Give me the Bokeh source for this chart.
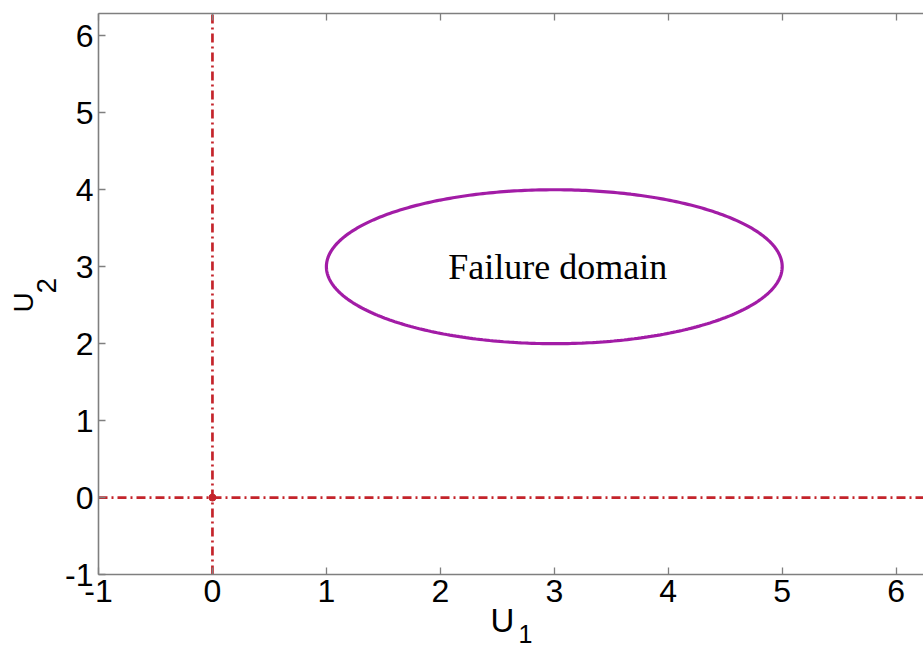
import numpy as np
from bokeh.plotting import figure
from bokeh.models import Range1d, LinearAxis, Label, FixedTicker, CustomJSTickFormatter
from bokeh.embed import file_html
from bokeh.resources import INLINE

# Limit-state region: ellipse in standard normal space
center_u1 = 3.0
center_u2 = 3.0
semi_u1 = 2.0
semi_u2 = 1.0
domain_label = "Failure domain"

# Axes through the origin
origin = [0.0, 0.0]
ticks = [-1, 0, 1, 2, 3, 4, 5, 6]
x_lim = [-1.0, 6.24]
y_lim = [-1.0, 6.29]

AXIS_GRAY = "#7f7f7f"
RED = "#c4242b"
PURPLE = "#a21ca6"

# The frame spans the whole canvas; the box axes sit at fixed data positions
p = figure(width=923, height=650, output_backend="svg", toolbar_location=None,
           x_range=Range1d(-1.86, 6.24), y_range=Range1d(-1.987, 6.459),
           x_axis_type=None, y_axis_type=None,
           min_border=0)
p.outline_line_color = None
p.grid.visible = False
p.background_fill_color = "white"
p.border_fill_color = "white"

plain_minus = CustomJSTickFormatter(code="return tick.toString();")
no_text = CustomJSTickFormatter(code="return '';")


def box_axis(loc, bounds, labels=True):
    ax = LinearAxis(fixed_location=loc, bounds=bounds)
    ax.ticker = FixedTicker(ticks=ticks)
    ax.formatter = plain_minus if labels else no_text
    ax.axis_line_color = AXIS_GRAY
    ax.axis_line_width = 1.6
    ax.major_tick_line_color = AXIS_GRAY
    ax.major_tick_line_width = 1.3
    ax.major_tick_in = 7
    ax.major_tick_out = 0
    ax.minor_tick_line_color = None
    ax.major_label_text_font = "Liberation Sans"
    ax.major_label_text_font_size = "32px"
    ax.major_label_text_color = "black"
    ax.major_label_standoff = 5
    return ax


p.add_layout(box_axis(y_lim[0], tuple(x_lim)), "below")
p.add_layout(box_axis(x_lim[0], tuple(y_lim)), "left")
p.add_layout(box_axis(y_lim[1], tuple(x_lim), labels=False), "above")

# Dash-dot reference lines along U1 = 0 and U2 = 0
p.line([origin[0], origin[0]], y_lim, line_color=RED, line_width=2.7,
       line_dash="9 4 2 4")
p.line(x_lim, [origin[1], origin[1]], line_color=RED, line_width=2.7,
       line_dash="9 4 2 4")
p.scatter([origin[0]], [origin[1]], size=7, color=RED)

# Failure domain boundary
t = np.linspace(0, 2 * np.pi, 400)
p.line(center_u1 + semi_u1 * np.cos(t), center_u2 + semi_u2 * np.sin(t),
       line_color=PURPLE, line_width=3.2)

p.add_layout(Label(x=3.03, y=center_u2, text=domain_label,
                   text_font="Liberation Serif", text_font_size="36px",
                   text_color="black", text_align="center",
                   text_baseline="middle"))

# Axis titles with subscripts
p.add_layout(Label(x=2.44, y=-1.597, text="U", text_font="Liberation Sans",
                   text_font_size="33px", text_color="black",
                   text_baseline="alphabetic"))
p.add_layout(Label(x=2.686, y=-1.77, text="1", text_font="Liberation Sans",
                   text_font_size="25px", text_color="black",
                   text_baseline="alphabetic"))
p.add_layout(Label(x=-1.658, y=2.405, text="U", text_font="Liberation Sans",
                   text_font_size="28px", text_color="black", angle=np.pi / 2,
                   text_baseline="alphabetic"))
p.add_layout(Label(x=-1.456, y=2.652, text="2", text_font="Liberation Sans",
                   text_font_size="28px", text_color="black", angle=np.pi / 2,
                   text_baseline="alphabetic"))

open("out.html", "w").write(file_html(p, INLINE))
